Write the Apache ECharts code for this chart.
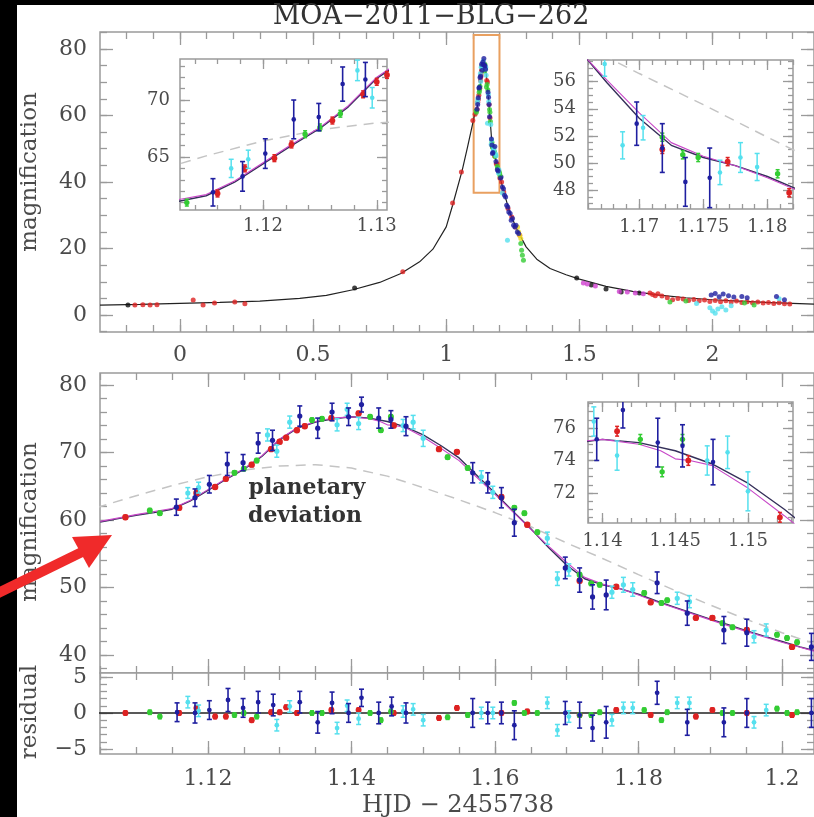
<!DOCTYPE html>
<html lang="en">
<head>
<meta charset="UTF-8">
<script src="https://cdn.jsdelivr.net/npm/echarts@6/dist/echarts.min.js"></script>
<style>
  html, body { margin: 0; padding: 0; background: #fff; }
  #container { width: 814px; height: 817px; }
</style>
</head>
<body>
<div id="container"></div>
<script>
// ---- model curves (t = HJD - 2455738, A = magnification) ----
var overviewModel = [[-0.30,3.0],[-0.15,3.2],[0.00,3.5],[0.15,3.8],[0.30,4.2],[0.45,5.0],[0.55,5.9],[0.65,7.6],[0.75,9.8],[0.83,12.5],[0.90,16.0],[0.95,19.8],[1.00,26.5],[1.024,33.0],[1.06,43.5],[1.08,50.5],[1.10,57.8],[1.105,59.7],[1.115,61.6],[1.125,67.5],[1.14,75.3],[1.15,72.6],[1.16,64.0],[1.17,53.3],[1.18,49.0],[1.19,45.3],[1.20,42.0],[1.22,36.0],[1.24,30.5],[1.27,25.0],[1.30,20.5],[1.34,16.8],[1.39,14.0],[1.45,12.1],[1.50,10.8],[1.60,8.6],[1.70,7.1],[1.80,6.0],[1.90,5.2],[2.00,4.6],[2.10,4.2],[2.20,3.8],[2.30,3.5],[2.40,3.2]];

var planetModel = [[1.1050,59.7],[1.1075,60.2],[1.1100,60.7],[1.1125,61.1],[1.1150,61.6],[1.1175,62.8],[1.1200,64.4],[1.1225,66.0],[1.1250,67.5],[1.1275,69.4],[1.1300,71.9],[1.1325,73.6],[1.1350,74.5],[1.1375,75.0],[1.1400,75.3],[1.1425,75.1],[1.1450,74.6],[1.1475,73.8],[1.1500,72.6],[1.1525,71.0],[1.1550,69.2],[1.1575,66.6],[1.1600,64.0],[1.1625,61.3],[1.1650,58.7],[1.1675,55.9],[1.1700,53.3],[1.1725,51.3],[1.1750,50.4],[1.1775,49.8],[1.1800,49.0],[1.1825,48.0],[1.1850,47.1],[1.1875,46.2],[1.1900,45.3],[1.1925,44.5],[1.1950,43.6],[1.1975,42.8],[1.2000,42.0],[1.2025,41.2],[1.2050,40.5]];

var altModel = [[1.1050,59.8],[1.1100,60.8],[1.1150,61.7],[1.1175,62.9],[1.1200,64.5],[1.1225,66.1],[1.1250,67.6],[1.1275,69.5],[1.1300,72.0],[1.1325,73.7],[1.1350,74.6],[1.1375,75.1],[1.1400,75.3],[1.1425,75.0],[1.1440,74.6],[1.1450,74.1],[1.1460,74.0],[1.1475,73.7],[1.1500,72.3],[1.1525,70.6],[1.1550,68.8],[1.1575,66.3],[1.1600,63.8],[1.1625,61.2],[1.1650,58.6],[1.1675,56.1],[1.1700,53.7],[1.1725,51.5],[1.1750,50.5],[1.1775,49.8],[1.1800,48.9],[1.1825,47.9],[1.1850,47.0],[1.1900,45.2],[1.1950,43.5],[1.2000,41.9],[1.2050,40.4]];

var singleLens = [[1.1000,60.3],[1.1050,62.0],[1.1100,63.6],[1.1150,65.1],[1.1200,66.4],[1.1250,67.4],[1.1300,68.0],[1.1350,68.2],[1.1400,67.7],[1.1450,66.5],[1.1500,64.8],[1.1550,63.0],[1.1600,61.1],[1.1650,59.0],[1.1700,56.6],[1.1750,54.3],[1.1800,51.9],[1.1850,49.6],[1.1900,47.4],[1.1950,45.3],[1.2000,43.3],[1.2050,41.5]];

// ---- data near the peak: [t, A, error] ----
var redPts = [[1.1085,60.4,0.3],[1.1160,61.8,0.3],[1.1184,64.0,0.3],[1.1210,64.9,0.3],[1.1225,66.1,0.3],[1.1261,68.2,0.3],[1.1288,70.5,0.3],[1.1300,71.6,0.3],[1.1309,72.2,0.3],[1.1324,73.3,0.3],[1.1335,73.9,0.3],[1.1372,75.1,0.3],[1.1410,75.8,0.3],[1.1459,74.0,0.3],[1.1522,70.5,0.3],[1.1547,70.1,0.3],[1.1609,63.4,0.3],[1.1645,59.3,0.3],[1.1718,51.0,0.3],[1.1769,50.1,0.3],[1.1817,47.8,0.3],[1.1880,45.5,0.3],[1.1903,45.5,0.3],[1.1951,43.7,0.3],[1.2014,41.2,0.3]];
var greenPts = [[1.1119,61.4,0.3],[1.1133,61.0,0.3],[1.1237,67.0,0.3],[1.1250,67.6,0.3],[1.1268,68.8,0.3],[1.1345,74.8,0.3],[1.1359,75.0,0.3],[1.1426,75.3,0.3],[1.1441,73.3,0.3],[1.1455,75.3,0.3],[1.1534,69.3,0.3],[1.1562,67.7,0.3],[1.1627,61.8,0.3],[1.1641,61.0,0.3],[1.1659,58.2,0.3],[1.1718,51.9,0.3],[1.1734,50.6,0.3],[1.1746,50.4,0.3],[1.1808,49.2,0.3],[1.1832,47.7,0.3],[1.1840,48.1,0.3],[1.1917,44.7,0.3],[1.1931,44.1,0.3],[1.1993,43.0,0.3],[1.2007,42.5,0.3],[1.2021,41.9,0.3]];
var bluePts = [[1.1156,61.9,1.2],[1.1182,63.3,1.3],[1.1202,65.3,1.3],[1.1227,68.3,1.7],[1.1249,68.5,1.2],[1.1270,71.4,1.5],[1.1290,71.8,1.5],[1.1328,75.4,1.5],[1.1353,73.6,1.5],[1.1373,76.0,1.3],[1.1396,75.3,1.3],[1.1414,77.1,1.1],[1.1438,75.1,1.5],[1.1455,74.9,1.3],[1.1476,73.9,1.4],[1.1569,67.0,1.5],[1.1590,65.5,1.5],[1.1609,63.3,1.5],[1.1627,59.6,2.0],[1.1698,52.9,1.6],[1.1718,51.1,1.8],[1.1736,48.6,1.8],[1.1755,48.9,2.2],[1.1826,50.7,1.6],[1.1868,46.2,1.8],[1.1919,43.7,2.0],[1.1951,43.3,2.0],[1.2041,41.2,2.0]];
var cyanPts = [[1.1172,64.0,0.8],[1.1187,64.8,0.8],[1.1283,72.6,0.9],[1.1296,70.2,0.9],[1.1314,74.5,0.9],[1.1380,74.1,0.9],[1.1394,76.4,0.9],[1.1410,74.3,0.9],[1.1472,74.0,0.9],[1.1486,74.5,1.0],[1.1500,72.1,1.2],[1.1581,66.4,0.9],[1.1597,64.1,0.9],[1.1673,57.3,0.9],[1.1687,51.3,1.0],[1.1703,52.6,0.9],[1.1763,49.3,0.9],[1.1779,50.4,1.1],[1.1792,49.7,1.0],[1.1854,48.4,0.9],[1.1871,47.9,0.9],[1.1961,42.7,0.9],[1.1978,43.7,0.9]];

// ---- residuals: [t, dA, error] ----
var redRes = [[1.1085,0,0.3],[1.1160,0,0.3],[1.1184,0.7,0.3],[1.1210,-0.5,0.3],[1.1225,-0.5,0.3],[1.1261,-1.0,0.3],[1.1288,0.1,0.3],[1.1300,0.1,0.3],[1.1309,0.8,0.3],[1.1324,0,0.3],[1.1372,0.4,0.3],[1.1410,0.4,0.3],[1.1459,0,0.3],[1.1522,-0.7,0.3],[1.1547,0.7,0.3],[1.1609,0,0.3],[1.1645,0.2,0.3],[1.1718,-0.3,0.3],[1.1769,0.4,0.3],[1.1817,-0.3,0.3],[1.1880,-0.5,0.3],[1.1903,0.4,0.3],[1.1951,0,0.3],[1.2014,-0.3,0.3]];
var greenRes = [[1.1119,0.1,0.3],[1.1133,-0.5,0.3],[1.1237,-0.3,0.3],[1.1250,0,0.3],[1.1268,-0.5,0.3],[1.1345,0,0.3],[1.1359,0,0.3],[1.1426,0,0.3],[1.1441,-1.0,0.3],[1.1455,0.2,0.3],[1.1534,-0.6,0.3],[1.1562,-0.3,0.3],[1.1627,1.4,0.3],[1.1641,0,0.3],[1.1659,0,0.3],[1.1718,-0.3,0.3],[1.1734,-0.3,0.3],[1.1746,0.1,0.3],[1.1808,0.4,0.3],[1.1832,-1.0,0.3],[1.1840,0.1,0.3],[1.1917,0,0.3],[1.1931,0,0.3],[1.1993,0.6,0.3],[1.2007,0,0.3],[1.2021,0.1,0.3]];
var blueRes = [[1.1157,0.1,1.3],[1.1182,0,1.4],[1.1202,0.4,1.3],[1.1228,1.8,1.6],[1.1249,0.7,1.3],[1.1270,1.5,1.5],[1.1291,1.1,1.5],[1.1328,1.5,1.5],[1.1353,-1.3,1.5],[1.1373,1.4,1.5],[1.1396,0,1.3],[1.1414,2.1,1.2],[1.1438,0,1.5],[1.1456,0.9,1.3],[1.1476,0,1.4],[1.1569,0,2.0],[1.1590,0,1.5],[1.1609,0,1.5],[1.1627,-1.7,2.0],[1.1698,0,1.6],[1.1718,-0.3,1.8],[1.1736,-2.1,1.8],[1.1755,-1.3,2.2],[1.1826,2.8,1.6],[1.1868,-1.3,1.8],[1.1919,-1.3,2.0],[1.1951,0,2.0],[1.2041,0,2.0]];
var cyanRes = [[1.1172,1.5,0.8],[1.1187,0.3,0.8],[1.1296,-1.7,0.8],[1.1314,0.9,0.8],[1.1380,-2.1,0.8],[1.1394,1.0,0.8],[1.1410,-0.8,0.8],[1.1472,0.2,0.8],[1.1486,0.5,0.8],[1.1500,-1.0,0.8],[1.1581,0,0.8],[1.1597,0,0.8],[1.1673,1.4,0.8],[1.1687,-2.4,0.8],[1.1703,-0.5,0.8],[1.1763,-1.0,0.8],[1.1779,0.7,0.8],[1.1792,0.7,0.8],[1.1854,1.4,0.8],[1.1871,1.4,0.8],[1.1961,-1.3,0.8],[1.1978,0.4,0.8]];
var residualZero = [[1.100,0],[1.210,0]];

// ---- rest of the light curve (overview panel only): [t, A] ----
var ovRed = [[-0.169,3.0],[-0.139,3.1],[-0.112,3.0],[-0.086,3.1],[0.050,4.5],[0.087,3.0],[0.130,3.6],[0.206,3.9],[0.244,3.4],[0.837,13.0],[1.024,33.7],[1.057,43.0],[1.100,58.5],[1.208,40.0],[1.216,37.0],[1.232,32.0],[1.246,29.5],[1.260,26.5],[1.276,24.0],[1.765,6.6],[1.775,6.2],[1.785,5.8],[1.795,6.4],[1.810,5.7],[1.830,5.2],[1.850,4.6],[1.870,5.0],[1.890,4.8],[1.910,4.4],[1.930,4.7],[1.950,4.3],[1.970,4.5],[1.990,4.1],[2.010,4.4],[2.030,4.0],[2.050,4.3],[2.070,3.9],[2.090,4.2],[2.110,3.8],[2.130,4.0],[2.150,3.7],[2.170,3.9],[2.190,3.6],[2.210,3.8],[2.230,3.5],[2.250,3.7],[2.270,3.4],[2.290,3.3]];
var ovBlue = [[1.206,41.5],[1.211,38.5],[1.215,38.0],[1.219,36.0],[1.223,35.5],[1.227,33.0],[1.231,32.5],[1.235,31.0],[1.240,30.5],[1.244,28.5],[1.249,29.0],[1.253,27.0],[1.258,26.5],[1.262,27.0],[1.267,25.0],[1.272,24.5],[1.995,6.0],[2.010,6.5],[2.025,5.5],[2.040,6.3],[2.060,5.8],[2.080,5.4],[2.110,5.6],[2.130,5.2],[2.240,5.6],[2.270,4.6]];
var ovCyan = [[1.155,57.7],[1.211,36.7],[1.230,22.5],[1.940,3.5],[1.990,2.2],[2.000,1.2],[2.010,0.5],[2.020,1.8],[2.035,2.5],[2.050,1.5],[2.070,2.8],[2.250,4.9]];
var ovGreen = [[1.151,68.6],[1.280,21.5],[1.283,19.5],[1.286,18.0],[1.290,16.5],[1.840,3.9],[1.900,4.2],[2.120,3.6],[2.156,3.0]];
var ovYellow = [[1.268,26.5],[1.272,25.0],[1.276,24.0],[1.280,23.0]];
var ovBlack = [[-0.195,3.0],[0.656,8.1],[1.490,11.1],[1.545,9.0],[1.600,7.8],[1.657,6.9],[1.725,6.6]];
var ovMagenta = [[1.515,9.6],[1.530,9.3],[1.560,8.7],[1.650,7.1],[1.680,6.9],[1.710,6.6],[1.740,6.4]];
var peakBox = [[1.103,36.8],[1.200,84.2]];

// ---- tick values ----
var ovXTicks = [0, 0.5, 1, 1.5, 2];
var ovYTicks = [0, 20, 40, 60, 80];
var zoomXTicks = [1.12, 1.14, 1.16, 1.18, 1.2];
var zoomYTicks = [40, 50, 60, 70, 80];
var resYTicks = [-5, 0, 5];
var riseXTicks = [1.12, 1.13], riseYTicks = [65, 70];
var fallXTicks = [1.17, 1.175, 1.18], fallYTicks = [48, 50, 52, 54, 56];
var topXTicks = [1.14, 1.145, 1.15], topYTicks = [72, 74, 76];

function steps(a, b, d) {
  var out = [];
  for (var v = a; v <= b + d / 1000; v += d) out.push(Math.round(v * 10000) / 10000);
  return out;
}

var GRAY = '#9a9a9a', LAB = '#4a4a4a', FONT = 'DejaVu Serif';
var RED = '#dd2222', GREEN = '#33cc33', BLUE = '#1f1fa0', CYAN = '#55e0ee';

var grids = [
  {left: 100, top: 32, width: 715, height: 300},
  {left: 100, top: 373, width: 715, height: 300},
  {left: 100, top: 673, width: 715, height: 81},
  {left: 180, top: 59, width: 207, height: 151},
  {left: 588, top: 60, width: 205, height: 149},
  {left: 588, top: 402, width: 205, height: 121}
];
grids.forEach(function (g) {
  g.show = true; g.borderColor = GRAY; g.borderWidth = 1.5; g.backgroundColor = '#fff';
});

var xAxes = [], yAxes = [], X = [], Y = [];
function lab(show, vals, margin, fs) {
  return {show: show, customValues: vals, margin: margin, color: LAB, fontFamily: FONT, fontSize: fs,
    formatter: function (v) { return String(v).replace('-', '\u2212'); }};
}
function addAxes(gi, xr, yr, xMaj, xMin, yMaj, yMin, o) {
  var ts = {color: GRAY, width: 1.3};
  ['bottom', 'top'].forEach(function (pos) {
    [[xMaj, o.maj], [xMin, o.min]].forEach(function (set, k) {
      if (pos === 'bottom' && k === 0) X[gi] = xAxes.length;
      xAxes.push({type: 'value', gridIndex: gi, position: pos, min: xr[0], max: xr[1],
        axisLine: {show: false, onZero: false}, splitLine: {show: false},
        axisTick: {show: true, inside: true, length: set[1], customValues: set[0], lineStyle: ts},
        axisLabel: lab(o.xLab && pos === 'bottom' && k === 0, set[0], o.xm, o.fs)});
    });
  });
  ['left', 'right'].forEach(function (pos) {
    [[yMaj, o.maj], [yMin, o.min]].forEach(function (set, k) {
      if (pos === 'left' && k === 0) Y[gi] = yAxes.length;
      yAxes.push({type: 'value', gridIndex: gi, position: pos, min: yr[0], max: yr[1],
        axisLine: {show: false, onZero: false}, splitLine: {show: false},
        axisTick: {show: true, inside: true, length: set[1], customValues: set[0], lineStyle: ts},
        axisLabel: lab(pos === 'left' && k === 0, set[0], o.ym, o.fs)});
    });
  });
}

addAxes(0, [-0.3, 2.381], [-5.1, 85.1], ovXTicks, steps(-0.2, 2.3, 0.1), ovYTicks, steps(-5, 85, 5),
  {xLab: true, xm: 12, ym: 13, fs: 22, maj: 13, min: 7});
addAxes(1, [1.10496, 1.20446], [37.33, 81.78], zoomXTicks, steps(1.105, 1.2, 0.005), zoomYTicks, steps(38, 80, 2),
  {xLab: false, xm: 12, ym: 13, fs: 22, maj: 14, min: 7});
addAxes(2, [1.10496, 1.20446], [-5.7, 5.55], zoomXTicks, steps(1.105, 1.2, 0.005), resYTicks, steps(-5, 5, 1),
  {xLab: true, xm: 14, ym: 13, fs: 22, maj: 13, min: 7});
addAxes(3, [1.1127, 1.1309], [60.35, 73.6], riseXTicks, steps(1.114, 1.13, 0.002), riseYTicks, steps(61, 73, 1),
  {xLab: true, xm: 7, ym: 10, fs: 18, maj: 10, min: 5});
addAxes(4, [1.166, 1.182], [46.6, 57.6], fallXTicks, steps(1.166, 1.182, 0.001), fallYTicks, steps(47, 57.5, 0.5),
  {xLab: true, xm: 9, ym: 12, fs: 18, maj: 10, min: 5});
addAxes(5, [1.139, 1.1531], [70.15, 77.6], topXTicks, steps(1.139, 1.153, 0.001), topYTicks, steps(70.5, 77.5, 0.5),
  {xLab: true, xm: 9, ym: 12, fs: 18, maj: 10, min: 5});

function errItem(color, rad, cap, lw) {
  return function (params, api) {
    var cs = params.coordSys;
    var t = api.value(0), v = api.value(1), e = api.value(2);
    var p = api.coord([t, v]);
    if (p[0] < cs.x || p[0] > cs.x + cs.width || p[1] < cs.y || p[1] > cs.y + cs.height) return null;
    var top = api.coord([t, v + e])[1], bot = api.coord([t, v - e])[1];
    var yt = Math.max(top, cs.y), yb = Math.min(bot, cs.y + cs.height);
    var st = {stroke: color, lineWidth: lw};
    var kids = [{type: 'line', shape: {x1: p[0], y1: yt, x2: p[0], y2: yb}, style: st}];
    if (top >= cs.y) kids.push({type: 'line', shape: {x1: p[0] - cap, y1: top, x2: p[0] + cap, y2: top}, style: st});
    if (bot <= cs.y + cs.height) kids.push({type: 'line', shape: {x1: p[0] - cap, y1: bot, x2: p[0] + cap, y2: bot}, style: st});
    kids.push({type: 'circle', shape: {cx: p[0], cy: p[1], r: rad}, style: {fill: color}});
    return {type: 'group', children: kids};
  };
}
function errSeries(gi, data, color, rad, cap, lw) {
  return {type: 'custom', xAxisIndex: X[gi], yAxisIndex: Y[gi], data: data, encode: {x: 0, y: 1},
    renderItem: errItem(color, rad, cap, lw), silent: true, z: 4};
}
function curve(gi, data, color, w, dash) {
  return {type: 'line', xAxisIndex: X[gi], yAxisIndex: Y[gi], data: data, symbol: 'none', showSymbol: false,
    lineStyle: {color: color, width: w, type: dash || 'solid'}, silent: true, z: 3};
}
function dots(data, color, size) {
  return {type: 'scatter', xAxisIndex: X[0], yAxisIndex: Y[0], data: data, symbolSize: size || 5,
    itemStyle: {color: color}, silent: true, z: 4};
}

var series = [];
// overview panel
var ov = curve(0, overviewModel, '#222', 1.2);
ov.markArea = {silent: true, itemStyle: {color: 'rgba(0,0,0,0)', borderColor: '#e9a060', borderWidth: 2},
  data: [[{coord: peakBox[0]}, {coord: peakBox[1]}]]};
series.push(ov);
series.push(dots(ovBlack, '#111'), dots(ovMagenta, '#d040d0'), dots(ovRed, RED), dots(ovGreen, GREEN),
  dots(ovCyan, CYAN), dots(ovYellow, '#eedd22'), dots(ovBlue, BLUE),
  dots(redPts, RED), dots(greenPts, GREEN), dots(cyanPts, CYAN), dots(bluePts, BLUE));

// zoomed panel and insets
[1, 3, 4, 5].forEach(function (gi) {
  var inset = gi !== 1;
  series.push(curve(gi, singleLens, '#c4c4c4', 1.5, [10, 7]));
  series.push(curve(gi, planetModel, '#35305a', 1.4));
  series.push(curve(gi, altModel, '#c848c8', 1.1));
  var r = inset ? 2.3 : 2.6;
  series.push(errSeries(gi, redPts, RED, r + 0.6, 2, 1.5));
  series.push(errSeries(gi, greenPts, GREEN, r + 0.4, 2, 1.5));
  series.push(errSeries(gi, cyanPts, CYAN, r, 2.5, 1.5));
  series.push(errSeries(gi, bluePts, BLUE, r, 2.5, 1.6));
});

// residuals
series.push(curve(2, residualZero, '#222', 1.5));
series.push(errSeries(2, redRes, RED, 3, 2, 1.5));
series.push(errSeries(2, greenRes, GREEN, 2.8, 2, 1.5));
series.push(errSeries(2, cyanRes, CYAN, 2.4, 2.5, 1.5));
series.push(errSeries(2, blueRes, BLUE, 2.4, 2.5, 1.6));

function txt(x, y, s, size, rot, weight, color) {
  return {type: 'text', x: x, y: y, rotation: rot || 0, z: 50,
    style: {text: s, fill: color || LAB, fontFamily: FONT, fontSize: size, fontWeight: weight || 'normal',
      align: 'center', verticalAlign: 'middle'}};
}

var option = {
  animation: false,
  backgroundColor: '#fff',
  grid: grids,
  xAxis: xAxes,
  yAxis: yAxes,
  series: series,
  graphic: [
    {type: 'rect', z: 40, shape: {x: 0, y: 0, width: 17, height: 817}, style: {fill: '#000'}},
    {type: 'rect', z: 40, shape: {x: 0, y: 0, width: 814, height: 5}, style: {fill: '#000'}},
    txt(431, 17, 'MOA\u22122011\u2212BLG\u2212262', 27, 0, 'normal', '#333'),
    txt(30, 172, 'magnification', 23, Math.PI / 2),
    txt(30, 522, 'magnification', 23, Math.PI / 2),
    txt(30, 712, 'residual', 23, Math.PI / 2),
    txt(458, 806, 'HJD \u2212 2455738', 24),
    txt(307, 488, 'planetary', 22, 0, 'bold', '#333'),
    txt(305, 516, 'deviation', 22, 0, 'bold', '#333'),
    {type: 'line', z: 60, shape: {x1: -6, y1: 595, x2: 84, y2: 551}, style: {stroke: '#f02a2a', lineWidth: 10}},
    {type: 'polygon', z: 60, shape: {points: [[112, 535], [72, 537], [89, 568]]}, style: {fill: '#f02a2a'}}
  ]
};

var chart = echarts.init(document.getElementById('container'));
chart.setOption(option);
</script>
</body>
</html>
